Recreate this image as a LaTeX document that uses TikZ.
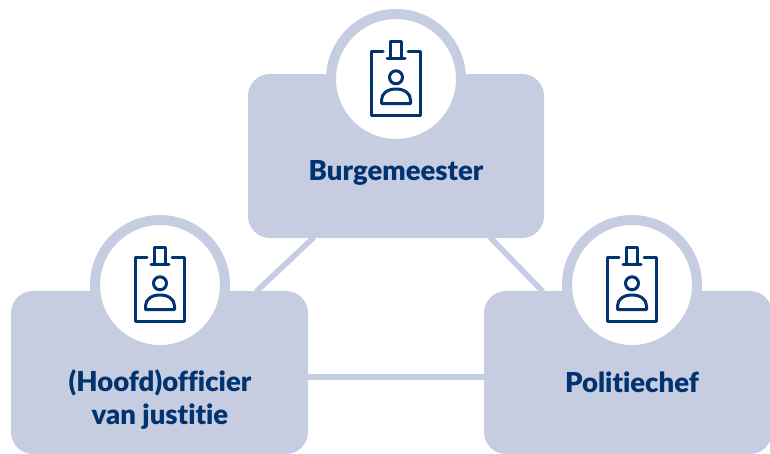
\documentclass[tikz,border=0pt]{standalone}
\usepackage{fontspec}
\setmainfont{Lato}[BoldFont={Lato Black},Ligatures=NoCommon]
\definecolor{boxc}{HTML}{C6CDE0}
\definecolor{navy}{HTML}{00336F}
\tikzset{
  x=1pt,y=-1pt,
  rolebox/.style={fill=boxc,rounded corners=22pt,minimum width=297pt,minimum height=163pt,inner sep=0pt,anchor=center},
  ring/.style={circle,fill=white,draw=boxc,line width=10pt,minimum size=130pt,inner sep=0pt},
  link/.style={draw=boxc,line width=5.5pt},
  rolelabel/.style={text=navy,font=\fontsize{27.5}{32.5}\selectfont\bfseries,align=center,inner sep=0pt},
  icon/.style={draw=navy,line width=3pt,line join=round,line cap=round},
  pics/badge/.style={code={
    \draw[icon] (-13,-28) -- (-24.5,-28) -- (-24.5,36) -- (24.5,36) -- (24.5,-28) -- (12,-28);
    \draw[icon] (-5.5,-21) -- (-5.5,-37.5) -- (5.5,-37.5) -- (5.5,-21);
    \draw[icon] (-9,-21) -- (9,-21);
    \draw[icon] (0,-1.7) circle[radius=6.5];
    \draw[icon] (-14.5,24.5) -- (14.5,24.5) -- (14.5,21) .. controls (14.5,14) and (8,10) .. (0,10) .. controls (-8,10) and (-14.5,14) .. (-14.5,21) -- cycle;
  }}
}
\begin{document}
\begin{tikzpicture}
\useasboundingbox (0,0) rectangle (770,453);
\node[rolebox,minimum width=296pt,minimum height=164pt] (burg) at (396,156) {};
\node[rolebox,minimum height=163pt] (offi) at (159.5,372.5) {};
\node[rolebox,minimum width=288pt,minimum height=163pt] (poli) at (628,372.5) {};
\draw[link] ([xshift=-82pt,yshift=1pt]burg.south) -- ([xshift=96.5pt,yshift=-1pt]offi.north);
\draw[link] ([xshift=94pt,yshift=1pt]burg.south) -- ([xshift=-85pt,yshift=-1pt]poli.north);
\draw[link] ([yshift=-4.5pt]offi.east) -- ([yshift=-4.5pt]poli.west);
\node[ring] (ringb) at (396,79) {};
\node[ring] (ringo) at (160,285) {};
\node[ring] (ringp) at (632,285) {};
\pic at (ringb.center) {badge};
\pic at (ringo.center) {badge};
\pic at (ringp.center) {badge};
\node[rolelabel] (tb) at (396,172.5) {Burgemeester};
\node[rolelabel] (to) at (160,399.5) {(Hoofd)officier\\van justitie};
\node[rolelabel] (tp) at (632,382) {Politiechef};
\end{tikzpicture}
\end{document}
